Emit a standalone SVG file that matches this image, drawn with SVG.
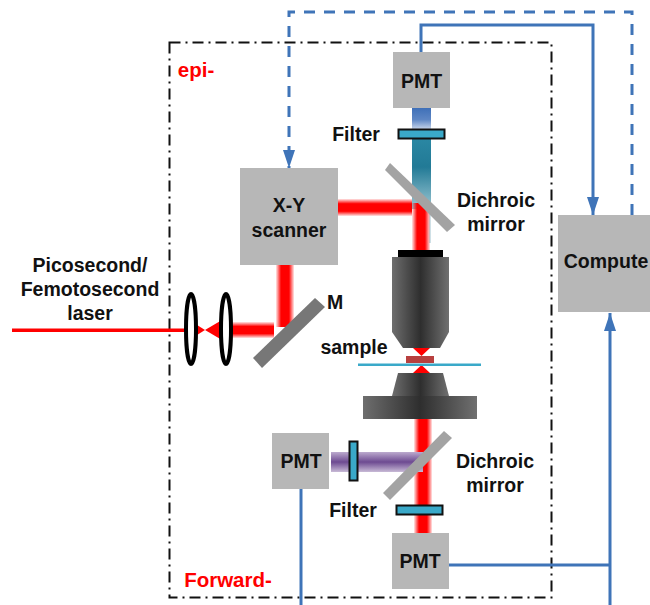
<svg xmlns="http://www.w3.org/2000/svg" width="650" height="605" viewBox="0 0 650 605">
<style>
text{font-family:"Liberation Sans",Arial,sans-serif;font-weight:bold;font-size:19.500px;fill:#111;text-anchor:middle}
.box{fill:#b7b7b7}
text.red{fill:#f00;font-size:20.500px}
.conn{fill:none;stroke:#3f74b8;stroke-width:3}
.dash{stroke-dasharray:11 9}
.filter{fill:#3aa9c9;stroke:#111;stroke-width:2}
.mirror{fill:#a3a3a3}
.lens{fill:#fff;stroke:#000;stroke-width:4}
</style>
<defs>
<linearGradient id="rv" x1="0" x2="1" y1="0" y2="0"><stop offset="0" stop-color="#f00" stop-opacity=".1"/><stop offset=".28" stop-color="#f00"/><stop offset=".72" stop-color="#f00"/><stop offset="1" stop-color="#f00" stop-opacity=".1"/></linearGradient>
<linearGradient id="rh" x1="0" x2="0" y1="0" y2="1"><stop offset="0" stop-color="#f00" stop-opacity=".1"/><stop offset=".28" stop-color="#f00"/><stop offset=".72" stop-color="#f00"/><stop offset="1" stop-color="#f00" stop-opacity=".1"/></linearGradient>
<linearGradient id="pu" x1="0" x2="0" y1="0" y2="1"><stop offset="0" stop-color="#bcaace"/><stop offset=".5" stop-color="#6d4a91"/><stop offset="1" stop-color="#c8bad6"/></linearGradient>
<linearGradient id="bl" x1="0" x2="0" y1="0" y2="1"><stop offset="0" stop-color="#3f70b8"/><stop offset=".55" stop-color="#5d86c4"/><stop offset="1" stop-color="#c5d3ea"/></linearGradient>
<linearGradient id="te" x1="0" x2="0" y1="0" y2="1"><stop offset="0" stop-color="#2a87a3"/><stop offset=".4" stop-color="#227a96"/><stop offset="1" stop-color="#9cc7d3"/></linearGradient>
<linearGradient id="ob" x1="0" x2="1" y1="0" y2="0"><stop offset="0" stop-color="#6e6e6e"/><stop offset=".5" stop-color="#2e2e2e"/><stop offset="1" stop-color="#707070"/></linearGradient>
<marker id="ah" markerUnits="userSpaceOnUse" markerWidth="18" markerHeight="12" refX="18" refY="6" orient="auto"><path d="M0 0L18 6L0 12z" fill="#3f74b8"/></marker>
</defs>
<rect id="frame" x="169.500" y="42.500" width="382" height="555" fill="none" stroke="#111" stroke-width="2" stroke-dasharray="11 5 2 5"/>
<g id="beams">
<rect x="12" y="328.500" width="174" height="3.500" fill="#f00"/>
<path d="M197 325L205 330L197 335z" fill="#f00"/>
<path d="M205 330L222 320V340z" fill="#f00"/>
<rect x="232" y="322" width="42" height="16" fill="url(#rh)"/>
<rect x="276" y="265" width="18" height="62" fill="url(#rv)"/>
<rect x="338" y="199" width="74" height="17" fill="url(#rh)"/>
<rect x="412" y="108" width="19" height="21" fill="url(#bl)"/>
<rect x="412" y="139" width="19" height="70" fill="url(#te)"/>
<rect x="429" y="209" width="2" height="34" fill="#cfe0e6"/>
<rect x="412" y="203" width="18" height="47" fill="url(#rv)"/>
<path d="M413 348H430L421.500 356z" fill="#f00"/>
<path d="M421.500 365L413 373H430z" fill="#f00"/>
<rect x="414" y="419" width="18" height="114" fill="url(#rv)"/>
<rect x="331" y="452" width="92" height="20" fill="url(#pu)"/>
</g>
<g id="microscope">
<rect x="398" y="250" width="45" height="7" fill="#000"/>
<path d="M392 257H449V332L440 348H403L392 332z" fill="url(#ob)"/>
<rect x="406" y="356" width="28" height="7" fill="#b8403f"/>
<rect x="358" y="363.500" width="123" height="2.500" fill="#3aa9c9"/>
<path d="M398 373H443L449 396H392z" fill="url(#ob)"/>
<rect x="363" y="396" width="114" height="23" fill="url(#ob)"/>
</g>
<g id="optics">
<path class="mirror" d="M385 170L390 163L455 225L447 232z"/>
<path class="mirror" d="M383 493L444 431L452 438L390 500z"/>
<path d="M253 358L315 298L325 307L262 368z" fill="#777"/>
<ellipse class="lens" cx="191" cy="329" rx="5" ry="35"/>
<ellipse class="lens" cx="226" cy="329" rx="5" ry="35"/>
<rect class="filter" x="398.500" y="129.500" width="46" height="9"/>
<rect class="filter" x="349.500" y="441.500" width="8" height="39"/>
<rect class="filter" x="396.500" y="505.500" width="46" height="9"/>
</g>
<g id="connectors">
<path class="conn" d="M421 52V25H593V215" marker-end="url(#ah)"/>
<path class="conn dash" d="M632 215V12H289V168" marker-end="url(#ah)"/>
<path class="conn" d="M301 489V605"/>
<path class="conn" d="M449 565H610"/>
<path class="conn" d="M610 605V313" marker-end="url(#ah)"/>
</g>
<g id="pmt-top"><rect class="box" x="393" y="52" width="57" height="56"/><text x="421.500" y="88">PMT</text></g>
<g id="scanner"><rect class="box" x="240" y="168" width="98" height="97"/><text x="289" y="212">X-Y</text><text x="289" y="237">scanner</text></g>
<g id="computer"><rect class="box" x="558" y="215" width="92" height="97"/><text x="606" y="268">Compute</text></g>
<g id="pmt-left"><rect class="box" x="272" y="433" width="57" height="56"/><text x="301" y="468">PMT</text></g>
<g id="pmt-bottom"><rect class="box" x="392" y="533" width="57" height="56"/><text x="420" y="568">PMT</text></g>
<g id="labels">
<text class="red" x="196" y="77">epi-</text>
<text class="red" x="228" y="587">Forward-</text>
<text x="356" y="141">Filter</text>
<text x="496" y="207">Dichroic</text>
<text x="496" y="231">mirror</text>
<text x="90" y="272">Picosecond/</text>
<text x="90" y="296">Femotosecond</text>
<text x="90" y="320">laser</text>
<text x="335" y="309">M</text>
<text x="354" y="354">sample</text>
<text x="495" y="468">Dichroic</text>
<text x="495" y="492">mirror</text>
<text x="353" y="517">Filter</text>
</g>
</svg>
